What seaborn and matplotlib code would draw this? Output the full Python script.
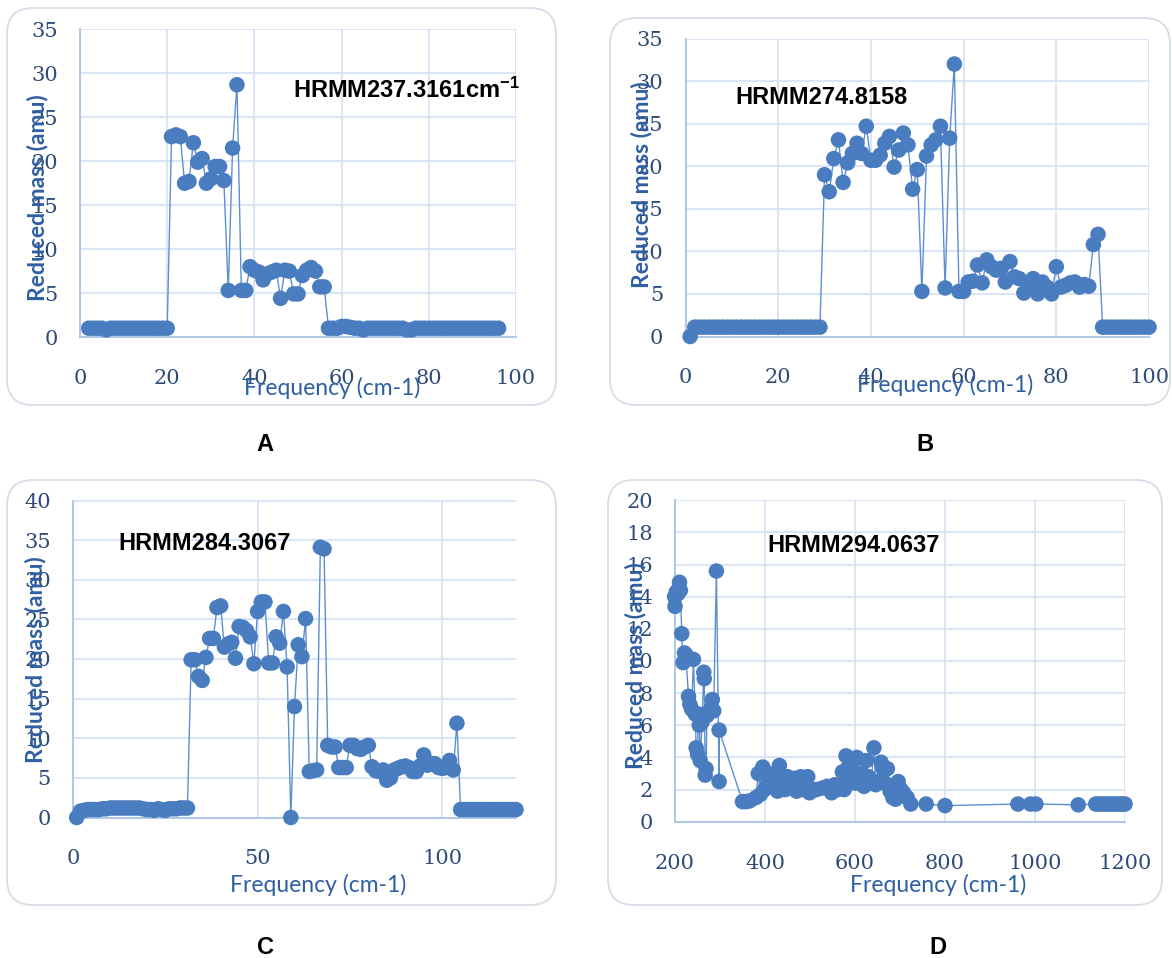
import matplotlib
matplotlib.use("Agg")
import matplotlib.pyplot as plt
import numpy as np
import pandas as pd
import seaborn as sns
from matplotlib.patches import FancyBboxPatch
from matplotlib.transforms import IdentityTransform

# ---------------- data ----------------
# Panel A: HRMM 237.3161 cm-1
freq_a = list(range(2, 97))
mass_a = ([1.0, 1.0, 1.0, 1.0, 0.8, 1.0, 1.0, 1.0, 1.0, 1.0,
           1.0, 1.0, 1.0, 1.0, 1.0, 1.0, 1.0, 1.0, 1.0] +
          [22.8, 23.0, 22.8, 17.5, 17.7, 22.1, 19.9, 20.3, 17.5, 18.0,
           19.4, 19.4, 17.8, 5.3, 21.5, 28.7, 5.3, 5.3, 8.0, 7.6,
           7.4, 6.5, 7.2, 7.4, 7.6, 4.4, 7.6, 7.5, 4.9, 4.9,
           7.0, 7.6, 7.9, 7.5, 5.7, 5.7] +
          [1.0, 1.0, 1.0, 1.2, 1.2, 1.1, 1.0, 1.0, 0.8, 1.0,
           1.0, 1.0, 1.0, 1.0, 1.0, 1.0, 1.0, 1.0, 0.8, 0.8,
           1.0, 1.0, 1.0, 1.0, 1.0, 1.0, 1.0, 1.0, 1.0, 1.0,
           1.0, 1.0, 1.0, 1.0, 1.0, 1.0, 1.0, 1.0, 1.0, 1.0])

# Panel B: HRMM 274.8158
freq_b = list(range(1, 101))
mass_b = ([0.0] + [1.1] * 28 +
          [19.0, 17.0, 20.9, 23.1, 18.1, 20.4, 21.5, 22.7, 21.5, 24.7,
           20.7, 20.7, 21.3, 22.7, 23.5, 19.9, 21.9, 23.9, 22.5, 17.3,
           19.6, 5.3, 21.2, 22.5, 23.1, 24.7, 5.7, 23.3, 32.0, 5.3,
           5.3, 6.4, 6.5, 8.4, 6.3, 9.0, 8.2, 7.8, 8.0, 6.4,
           8.8, 7.0, 6.8, 5.1, 6.2, 6.8, 5.0, 6.4, 5.8, 5.0,
           8.2, 5.8, 6.0, 6.3, 6.4, 5.8, 6.1, 5.9, 10.8, 12.0] +
          [1.1] * 11)

# Panel C: HRMM 284.3067
freq_c = list(range(1, 121))
mass_c = ([0.0] +
          [0.8, 0.9, 1.0, 1.0, 1.0, 1.0, 1.1, 1.1, 1.2, 1.2,
           1.2, 1.2, 1.2, 1.2, 1.2, 1.2, 1.2, 1.1, 1.0, 1.0,
           0.9, 1.1, 1.0, 0.9, 1.1, 1.1, 1.1, 1.2, 1.2, 1.2] +
          [19.9, 19.9, 17.8, 17.3, 20.2, 22.6, 22.6, 26.5, 26.7, 21.5,
           21.9, 22.1, 20.1, 24.1, 24.0, 23.6, 22.8, 19.4, 26.0, 27.2,
           27.2, 19.5, 19.5, 22.8, 22.0, 26.0, 19.0, 0.0, 14.0, 21.8,
           20.3, 25.1, 5.8, 5.9, 6.0, 34.1, 33.9, 9.1, 8.9, 8.9,
           6.3, 6.3, 6.3, 9.1, 9.1, 8.7, 8.6, 8.9, 9.1, 6.4,
           5.9, 5.8, 6.0, 4.7, 5.0, 6.0, 6.2, 6.4, 6.5, 6.3,
           5.8, 5.8, 6.5, 7.9, 6.6, 6.8, 6.8, 6.3, 6.2, 6.3,
           7.2, 6.0, 11.9] +
          [1.0] * 16)

# Panel D: HRMM 294.0637
freq_d = [199, 200, 203, 207, 210, 212, 215, 218, 221, 224,
          230, 233, 237, 241, 245, 247, 250, 252, 254, 256,
          260, 264, 265, 267, 269, 271, 275, 279, 283, 286,
          292, 298, 298,
          350, 358, 366, 380, 385, 390, 395, 399, 403, 408,
          412, 418, 423, 428, 432, 436, 440, 445, 450, 455,
          460, 466, 470, 476, 480, 486, 490, 495, 499, 505,
          515, 528, 538, 548, 555, 562, 568, 572, 576, 580,
          585, 590, 595, 600, 604, 608, 612, 616, 620, 625,
          630, 636, 642, 646, 652, 658, 662, 667, 672, 678,
          684, 690, 696, 702, 708, 716, 724,
          758, 800, 962, 990, 1002, 1096,
          1135, 1142, 1148, 1154, 1160, 1166, 1172, 1178, 1184, 1190,
          1196, 1200]
mass_d = [14.0, 13.4, 14.3, 14.2, 14.9, 14.4, 11.7, 9.9, 10.5, 10.4,
          7.8, 7.3, 7.0, 10.1, 6.7, 4.6, 4.2, 6.7, 6.0, 3.8,
          6.2, 9.3, 8.9, 2.9, 3.3, 6.6, 6.8, 7.0, 7.6, 6.9,
          15.6, 2.5, 5.7,
          1.25, 1.25, 1.3, 1.5, 3.0, 1.7, 3.4, 2.0, 2.2, 3.0,
          2.5, 2.2, 2.8, 1.9, 3.5, 2.7, 2.4, 2.0, 2.8, 2.5,
          2.2, 2.7, 1.9, 2.3, 2.8, 2.0, 2.7, 2.8, 1.8, 2.0,
          2.0, 2.1, 2.2, 1.8, 2.3, 2.0, 2.3, 3.1, 2.0, 4.1,
          3.4, 2.6, 3.7, 2.4, 4.0, 2.9, 2.4, 3.0, 2.2, 3.8,
          2.8, 2.5, 4.6, 2.3, 2.5, 3.7, 3.3, 2.4, 3.3, 1.9,
          1.5, 1.4, 2.5, 2.0, 1.8, 1.5, 1.1,
          1.1, 1.0, 1.1, 1.1, 1.1, 1.05,
          1.1, 1.1, 1.1, 1.1, 1.1, 1.1, 1.1, 1.1, 1.1, 1.1,
          1.1, 1.1]

titles = ["HRMM237.3161cm$^{-1}$", "HRMM274.8158", "HRMM284.3067", "HRMM294.0637"]
panel_letters = ["A", "B", "C", "D"]
x_label = "Frequency (cm-1)"
y_label = "Reduced mass (amu)"

# ---------------- style ----------------
sns.set_theme(style="whitegrid")
plt.rcParams["font.family"] = ["DejaVu Serif"]
plt.rcParams["mathtext.fontset"] = "custom"
plt.rcParams["mathtext.rm"] = "Liberation Sans:bold"
plt.rcParams["mathtext.it"] = "Liberation Sans:bold"
plt.rcParams["mathtext.bf"] = "Liberation Sans:bold"
plt.rcParams["mathtext.default"] = "rm"

MARK = "#4a7cc0"
LINE = "#5d8fd0"
GRID = "#d3e1f3"
SPINE = "#a9c4e6"
TICK = "#2d4a78"
LABEL = "#2f5fa3"

W, H = 1172, 958
fig = plt.figure(figsize=(W / 100, H / 100), dpi=100)
fig.patch.set_facecolor("white")

# rounded frames behind each chart (pixel coordinates, origin bottom-left)
frames = [(7, H - 405, 549, 397), (610, H - 405, 560, 387),
          (7, H - 905, 549, 425), (608, H - 905, 554, 425)]
for (x0, y0, w, h) in frames:
    fig.add_artist(FancyBboxPatch((x0, y0), w, h,
                                  boxstyle="round,pad=0,rounding_size=26",
                                  transform=IdentityTransform(),
                                  facecolor="white", edgecolor="#d6dde8",
                                  linewidth=1.3, zorder=0))


def px_axes(left, right, top, bottom):
    return [left / W, 1 - bottom / H, (right - left) / W, (bottom - top) / H]


panels = [
    dict(freq=freq_a, mass=mass_a, rect=px_axes(80, 516, 29.4, 337),
         xlim=(0, 100), xticks=range(0, 101, 20), ylim=(0, 35), yticks=range(0, 36, 5),
         note_xy=(48.9, 28.1), xl=(332, 388), yl=(38, 198), letter=(265, 444)),
    dict(freq=freq_b, mass=mass_b, rect=px_axes(685.5, 1149, 38.5, 336.5),
         xlim=(0, 100), xticks=range(0, 101, 20), ylim=(0, 35), yticks=range(0, 36, 5),
         note_xy=(10.7, 28.1), xl=(945, 385), yl=(642, 185), letter=(925, 444)),
    dict(freq=freq_c, mass=mass_c, rect=px_axes(73, 516, 500.5, 817.5),
         xlim=(0, 120), xticks=[0, 50, 100], ylim=(0, 40), yticks=range(0, 41, 5),
         note_xy=(12.2, 34.6), xl=(318, 885), yl=(36, 660), letter=(265, 948)),
    dict(freq=freq_d, mass=mass_d, rect=px_axes(675, 1125, 500.3, 821.7),
         xlim=(200, 1200), xticks=range(200, 1201, 200), ylim=(0, 20), yticks=range(0, 21, 2),
         note_xy=(405, 17.2), xl=(938, 885), yl=(635, 666), letter=(938, 948)),
]

for p, title, letter in zip(panels, titles, panel_letters):
    ax = fig.add_axes(p["rect"])
    ax.set_facecolor("none")
    df = pd.DataFrame({"freq": p["freq"], "mass": p["mass"]})
    sns.lineplot(data=df, x="freq", y="mass", sort=False, estimator=None,
                 color=LINE, linewidth=1.0, ax=ax, zorder=2)
    sns.scatterplot(data=df, x="freq", y="mass", color=MARK, s=125,
                    edgecolor="none", linewidth=0, ax=ax, zorder=3, clip_on=False)

    ax.set_xlim(*p["xlim"])
    ax.set_ylim(*p["ylim"])
    ax.set_xticks(list(p["xticks"]))
    ax.set_yticks(list(p["yticks"]))
    ax.grid(True, color=GRID, linewidth=1.2)
    ax.set_axisbelow(True)
    for side in ("top", "right"):
        ax.spines[side].set_visible(False)
    for side in ("left", "bottom"):
        ax.spines[side].set_visible(True)
        ax.spines[side].set_color(SPINE)
        ax.spines[side].set_linewidth(1.3)
    ax.tick_params(axis="x", length=0, pad=23, labelsize=15, labelcolor=TICK)
    ax.tick_params(axis="y", length=0, pad=16, labelsize=15, labelcolor=TICK)

    ax.set_xlabel(x_label, fontsize=16.5, color=LABEL, family="Lato")
    ax.set_ylabel(y_label, fontsize=16.5, color=LABEL, family="Lato", fontweight="bold")
    l, b, w, h = p["rect"]
    x0, x1 = l * W, (l + w) * W
    ytop, ybot = (1 - b - h) * H, (1 - b) * H
    ax.xaxis.label.set_va("center")
    ax.xaxis.set_label_coords((p["xl"][0] - x0) / (x1 - x0), (ybot - p["xl"][1]) / (ybot - ytop))
    ax.yaxis.label.set_va("center")
    ax.yaxis.set_label_coords((p["yl"][0] - x0) / (x1 - x0), (ybot - p["yl"][1]) / (ybot - ytop))

    ax.text(p["note_xy"][0], p["note_xy"][1], title, ha="left", va="center",
            fontsize=17, fontweight="bold", color="black", family="Liberation Sans",
            zorder=5)

    fig.text(p["letter"][0] / W, 1 - p["letter"][1] / H, letter, ha="center", va="center",
             fontsize=17, fontweight="bold", color="black", family="Liberation Sans")

fig.savefig("out.png", dpi=100, facecolor="white")
